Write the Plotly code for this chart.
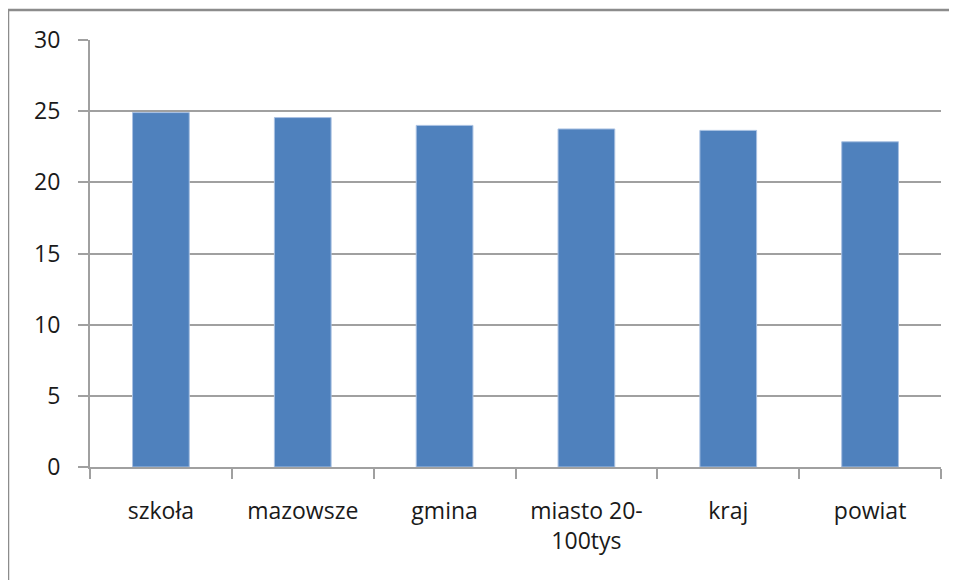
import plotly.graph_objects as go

categories = ["szkoła", "mazowsze", "gmina", "miasto 20-<br>100tys", "kraj", "powiat"]
values = [24.9, 24.55, 24.0, 23.75, 23.65, 22.85]
y_ticks = [0, 5, 10, 15, 20, 25, 30]

# the page body adds an 8px offset, so the figure is drawn 8px smaller
W, H = 949, 572
ml, mr, mt, mb = 82, 16, 32, 113
pw, ph = W - ml - mr, H - mt - mb

fig = go.Figure(go.Bar(
    x=categories, y=values,
    marker=dict(color="#4f81bd", line=dict(color="#a9c1e2", width=1)),
    width=0.4,
))

fnt = dict(family="Open Sans, Liberation Sans, sans-serif", size=23, color="#1a1a1a")

fig.update_layout(
    width=W, height=H,
    margin=dict(l=ml, r=mr, t=mt, b=mb),
    paper_bgcolor="white", plot_bgcolor="white",
    showlegend=False,
    font=fnt,
    bargap=0.6,
    xaxis=dict(
        showline=True, linecolor="#a0a0a0", linewidth=2,
        ticks="outside", ticklen=10, tickcolor="#a0a0a0", tickwidth=2,
        tickson="boundaries", showgrid=False,
        tickfont=fnt, ticklabelstandoff=22,
    ),
    yaxis=dict(
        range=[0, 30], tickvals=y_ticks,
        showline=True, linecolor="#a0a0a0", linewidth=2,
        ticks="outside", ticklen=10, tickcolor="#a0a0a0", tickwidth=2,
        showgrid=True, gridcolor="#a0a0a0", gridwidth=1.5,
        zeroline=False, tickfont=fnt, ticklabelstandoff=13,
    ),
    shapes=[dict(
        type="rect", xref="paper", yref="paper",
        x0=(0 - ml) / pw, x1=(W + 30 - ml) / pw,
        y0=-(mb + 30) / ph, y1=1 + (mt - 2) / ph,
        line=dict(color="#8c8c8c", width=2.5), layer="below",
    )],
)

fig.write_html("out.html")
